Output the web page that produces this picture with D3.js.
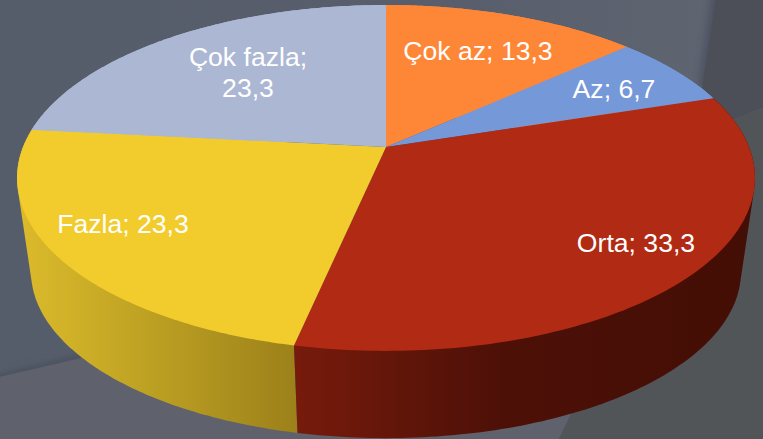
<!DOCTYPE html>
<html><head><meta charset="utf-8">
<script src="https://cdn.jsdelivr.net/npm/d3@7/dist/d3.min.js"></script>
<style>html,body{margin:0;padding:0;background:#585f6c}svg{display:block}</style>
</head><body><svg id="c" width="763" height="439"></svg>
<script>
const categories = ["Çok az","Az","Orta","Fazla","Çok fazla"];
const values = [13.3,6.7,33.3,23.3,23.3];
const displayValues = ["13,3","6,7","33,3","23,3","23,3"];
const topColors = ["#fe8637","#7598d9","#b02a14","#f2cc2c","#abb7d3"];
const wallStops = [
  ["#fe8637","#fe8637"],["#7598d9","#7598d9"],
  ["#771b0c","#4d1007","#430e05"],
  ["#dcbb2b","#bb9f22","#9c801a"],
  ["#abb7d3","#abb7d3"]];
const labelPos = [[478,60],[614,98],[636,252],[123,233],[248,66]];
const labelLines = [null,null,null,null,["Çok fazla;","23,3"]];

const svg = d3.select("#c");
const W=763,H=439;
const defs = svg.append("defs");
defs.append("filter").attr("id","blur").attr("x","-20%").attr("y","-20%").attr("width","140%").attr("height","140%")
  .append("feGaussianBlur").attr("stdDeviation",3.5);
defs.append("filter").attr("id","blur2").append("feGaussianBlur").attr("stdDeviation",0.7);
const bgG=defs.append("linearGradient").attr("id","bgG").attr("x1",0).attr("x2",1).attr("y1",0).attr("y2",0);
bgG.append("stop").attr("offset",0).attr("stop-color","#565d6a");
bgG.append("stop").attr("offset",0.6).attr("stop-color","#585e6b");
bgG.append("stop").attr("offset",0.92).attr("stop-color","#5e6470");

// background panels
svg.append("rect").attr("width",W).attr("height",H).attr("fill","url(#bgG)");
const bgLine = d3.line();
const shadow = svg.append("g").attr("filter","url(#blur)").attr("fill","none").attr("stroke","#49505f").attr("stroke-width",7);
shadow.append("path").attr("d",bgLine([[716,-10],[702,88]]));
shadow.append("path").attr("d",bgLine([[-10,380],[90,356]]));
shadow.append("path").attr("d",bgLine([[574,410],[556,445]])).attr("stroke","#4a4f58").attr("stroke-width",5);
const sh = svg.append("g").attr("filter","url(#blur2)");
sh.append("path").attr("d",bgLine([[-5,378],[90,356],[300,400],[572,412],[556,445],[-5,445]])+"Z").attr("fill","#5e626c");
sh.append("path").attr("d",bgLine([[716,-5],[770,-5],[770,105],[733,120],[702,88]])+"Z").attr("fill","#4d5058");
sh.append("path").attr("d",bgLine([[733,120],[770,105],[770,445],[556,445],[572,412]])+"Z").attr("fill","#515558");

// perspective disc projection
const Y0=147,CX=386,a=363,b=167.4,p=-0.179,s=0.962,Y1=242;
const proj=(t,sc,y0)=>{const u=Math.sin(t),v=-Math.cos(t),d=1+p*v;return [CX+sc*a*u/d,y0+sc*b*v/d];};
const pie=d3.pie().sort(null).value(d=>d)(values);
const arcPts=(s0,e0,sc,y0)=>d3.range(0,121).map(i=>proj(s0+(e0-s0)*i/120,sc,y0));
const line=d3.line();

// walls: back to front, each the hull of its two rims (the top face covers the upper edge)
const walls=svg.append("g");
[0,1,4,3,2].forEach(i=>{
  const d=pie[i];
  const hull=d3.polygonHull(arcPts(d.startAngle,d.endAngle,1,Y0).concat(arcPts(d.startAngle,d.endAngle,s,Y1)));
  const xs=hull.map(q=>q[0]);
  const g=defs.append("linearGradient").attr("id","w"+i).attr("gradientUnits","userSpaceOnUse")
    .attr("x1",d3.min(xs)).attr("x2",d3.max(xs)).attr("y1",0).attr("y2",0);
  const stops=wallStops[i];
  const offs = stops.length===3 ? (i===2?[0,0.45,1]:[0,0.5,1]) : [0,1];
  stops.forEach((c,k)=>g.append("stop").attr("offset",offs[k]).attr("stop-color",c));
  walls.append("path").attr("d",line(hull)+"Z").attr("fill",`url(#w${i})`);
});
// top face
const face=svg.append("g");
pie.forEach((d,i)=>{
  face.append("path").attr("d",line([[CX,Y0]].concat(arcPts(d.startAngle,d.endAngle,1,Y0)))+"Z")
    .attr("fill",topColors[i]);
});
// labels
const lab=svg.append("g").attr("font-family","'Liberation Sans',Arial,sans-serif").attr("font-size",26.6).attr("fill","#fff").attr("text-anchor","middle");
categories.forEach((c,i)=>{
  if(labelLines[i]){
    labelLines[i].forEach((t,k)=>lab.append("text").attr("x",labelPos[i][0]).attr("y",labelPos[i][1]+k*31).text(t));
  } else {
    lab.append("text").attr("x",labelPos[i][0]).attr("y",labelPos[i][1]).text(`${c}; ${displayValues[i]}`);
  }
});
</script></body></html>
